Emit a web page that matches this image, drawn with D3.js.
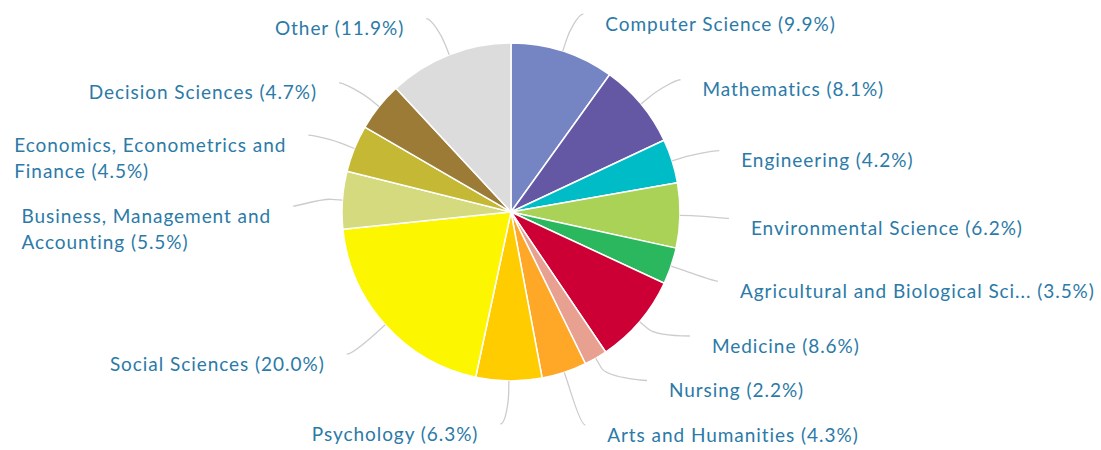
<!DOCTYPE html>
<html>
<head>
<meta charset="utf-8">
<script src="https://cdn.jsdelivr.net/npm/d3@7"></script>
<style>
  body { margin: 0; background: #fff; }
  .label { font-family: "Lato", sans-serif; font-size: 19px; letter-spacing: 0.95px; fill: #2b7aa7; }
</style>
</head>
<body>
<div id="chart"></div>
<script>
// Subject areas, clockwise from 12 o'clock
const subjects = ["Computer Science", "Mathematics", "Engineering", "Environmental Science",
	"Agricultural and Biological Sci...", "Medicine", "Nursing", "Arts and Humanities",
	"Psychology", "Social Sciences", "Business, Management and Accounting",
	"Economics, Econometrics and Finance", "Decision Sciences", "Other"];
const shares = [9.9, 8.1, 4.2, 6.2, 3.5, 8.6, 2.2, 4.3, 6.3, 20.0, 5.5, 4.5, 4.7, 11.9];
const sliceColors = ["#7585c4", "#6457a4", "#00bcc6", "#a9d256", "#2ab75e", "#cc0035", "#e8a090",
	"#ffa726", "#ffcc00", "#fcf600", "#d4da7d", "#c4b834", "#9b7b36", "#dcdcdc"];

const width = 1101, height = 450;
const cx = 511, cy = 212, radius = 169;
const labelRadius = 210, labelCy = cy + 2;
const topY = 2, bottomY = 425;
const lineHeight = 26.5, labelGap = 18, textPad = 22;

const data = subjects.map((s, i) => ({name: s, share: shares[i], color: sliceColors[i]}));

const svg = d3.select("#chart").append("svg")
	.attr("width", width)
	.attr("height", height);

const pie = d3.pie().sort(null).value(d => d.share);
const arcs = pie(data);
const arc = d3.arc().innerRadius(0).outerRadius(radius);

var g = svg.append("g")
	.attr("transform", "translate(" + cx + "," + cy + ")");

g.selectAll("path.slice")
	.data(arcs)
	.join("path")
	.attr("class", "slice")
	.attr("d", arc)
	.attr("fill", d => d.data.color)
	.attr("stroke", "#fff")
	.attr("stroke-width", 1.5)
	.attr("stroke-linejoin", "round");

// text measuring helper
var measure = svg.append("text").attr("class", "label").attr("opacity", 0);
function textWidth(s) {
	measure.text(s);
	return measure.node().getComputedTextLength();
}

// label objects
var labels = arcs.map(d => {
	let mid = (d.startAngle + d.endAngle) / 2;
	let right = mid < Math.PI;
	let text = d.data.name + " (" + d.data.share.toFixed(1) + "%)";
	let natY = labelCy - labelRadius * Math.cos(mid);
	let natDx = labelRadius * Math.abs(Math.sin(mid)) + 8;
	let lines = [text];
	if (!right) {
		// wrap when the label does not fit to the left of its anchor
		let avail = cx - natDx - textPad - 6;
		if (textWidth(text) > avail) {
			let words = text.split(" ");
			lines = [];
			let cur = "";
			words.forEach(w => {
				let test = cur ? cur + " " + w : w;
				if (textWidth(test) > avail && cur) {
					lines.push(cur);
					cur = w;
				} else {
					cur = test;
				}
			});
			lines.push(cur);
		}
	}
	return {d: d, mid: mid, right: right, lines: lines, natY: natY,
		h: lines.length * lineHeight + labelGap,
		w: d3.max(lines, l => textWidth(l))};
});
measure.remove();

// spread labels on each side so they do not overlap
[true, false].forEach(side => {
	let list = labels.filter(l => l.right === side).sort((a, b) => a.natY - b.natY);
	list.forEach((l, i) => {
		l.y = i === 0 ? Math.max(topY, l.natY) : Math.max(l.natY, list[i - 1].y + list[i - 1].h);
	});
	for (let i = list.length - 1; i >= 0; i--) {
		let lim = i === list.length - 1 ? bottomY : list[i + 1].y - list[i].h;
		list[i].y = Math.min(list[i].y, lim);
	}
	list.forEach((l, i) => {
		let useY = (i === 0 || i === list.length - 1) ? l.natY : l.y;
		let dy = useY - labelCy;
		let dx = Math.sqrt(Math.max(0, labelRadius * labelRadius - dy * dy)) + 8;
		l.x = side ? cx + dx : cx - dx;
	});
});

// connectors
svg.selectAll("path.connector")
	.data(labels)
	.join("path")
	.attr("class", "connector")
	.attr("fill", "none")
	.attr("stroke", "#cccccc")
	.attr("stroke-width", 1.3)
	.attr("d", l => {
		let s = Math.sin(l.mid), c = Math.cos(l.mid);
		let dir = l.right ? 1 : -1;
		let p4 = [cx + radius * s, cy - radius * c];
		let p2 = [cx + (radius + 11) * s, cy - (radius + 11) * c];
		let q1 = [cx + (radius + 22) * s, cy - (radius + 22) * c];
		return "M" + l.x + "," + l.y +
			"C" + (l.x - dir * 5) + "," + l.y + " " + q1[0] + "," + q1[1] + " " + p2[0] + "," + p2[1] +
			"L" + p4[0] + "," + p4[1];
	});

// label texts
var texts = svg.selectAll("text.label")
	.data(labels)
	.join("text")
	.attr("class", "label")
	.attr("x", l => l.right ? l.x + textPad : l.x - textPad - l.w)
	.attr("y", l => l.y + 10);

texts.selectAll("tspan")
	.data(l => l.lines.map((t, i) => ({t: t, i: i, l: l})))
	.join("tspan")
	.attr("x", s => s.l.right ? s.l.x + textPad : s.l.x - textPad - s.l.w)
	.attr("y", s => s.l.y + 10 + s.i * lineHeight)
	.attr("dy", "0.35em")
	.text(s => s.t);
</script>
</body>
</html>
